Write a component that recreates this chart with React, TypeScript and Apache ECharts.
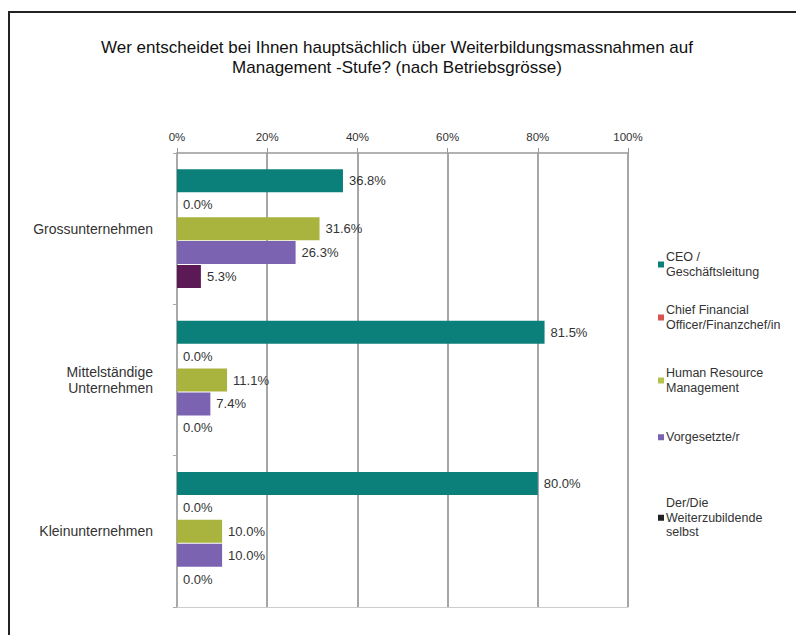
import React, { useEffect, useRef } from "react";
import * as echarts from "echarts";

const categories = ["Grossunternehmen", "Mittelständige\nUnternehmen", "Kleinunternehmen"];
const seriesNames = [
  "CEO /\nGeschäftsleitung",
  "Chief Financial\nOfficer/Finanzchef/in",
  "Human Resource\nManagement",
  "Vorgesetzte/r",
  "Der/Die\nWeiterzubildende\nselbst",
];
const ceoValues = [36.8, 81.5, 80.0];
const cfoValues = [0.0, 0.0, 0.0];
const hrValues = [31.6, 11.1, 10.0];
const vorgesetzteValues = [26.3, 7.4, 10.0];
const selbstValues = [5.3, 0.0, 0.0];

const colors = ["#0b7f79", "#c0504d", "#a8b43e", "#7b63b1", "#5b1a56"];
const legendIconColors = ["#0b7f79", "#d9534f", "#b5c24f", "#7b63b1", "#222222"];
const legendTops = [245, 298, 361, 425, 491];

export default function App() {
  const ref = useRef<HTMLDivElement>(null);
  useEffect(() => {
    if (!ref.current) return;
    const chart = echarts.init(ref.current, undefined, { renderer: "svg" });
    const values = [ceoValues, cfoValues, hrValues, vorgesetzteValues, selbstValues];
    const font = "'Liberation Sans', Arial, sans-serif";
    chart.setOption({
      animation: false,
      backgroundColor: "#ffffff",
      textStyle: { fontFamily: font },
      title: {
        text: "Wer entscheidet bei Ihnen hauptsächlich über Weiterbildungsmassnahmen auf\nManagement -Stufe? (nach Betriebsgrösse)",
        left: 392,
        top: 32,
        textAlign: "center",
        textStyle: { fontSize: 17, fontWeight: "normal", color: "#111", lineHeight: 20, fontFamily: font },
      },
      legend: seriesNames.map((n, i) => ({
        data: [{ name: n, itemStyle: { color: legendIconColors[i] } }],
        orient: "vertical",
        left: 653,
        top: legendTops[i],
        itemWidth: 6,
        itemHeight: 6,
        itemGap: 4,
        icon: "rect",
        selectedMode: false,
        textStyle: { fontSize: 12.5, color: "#333", lineHeight: 14.5, fontFamily: font, padding: [0, 0, 0, -3] },
      })),
      grid: { left: 177, right: 168, top: 153, bottom: 28, containLabel: false },
      xAxis: [
        {
          type: "value",
          position: "top",
          min: 0,
          max: 100,
          interval: 20,
          axisLabel: { formatter: "{value}%", fontSize: 11.5, color: "#333", margin: 10, fontFamily: font },
          axisLine: { show: true, lineStyle: { color: "#999", width: 1.5 } },
          axisTick: { show: true, length: 5, lineStyle: { color: "#999" } },
          splitLine: { show: true, lineStyle: { color: "#888", width: 1.5 } },
        },
        {
          type: "value",
          position: "bottom",
          min: 0,
          max: 100,
          interval: 20,
          axisLabel: { show: false },
          axisLine: { show: true, lineStyle: { color: "#ccc", width: 1 } },
          axisTick: { show: false },
          splitLine: { show: false },
        },
      ],
      yAxis: {
        type: "category",
        data: categories,
        inverse: true,
        axisLabel: { fontSize: 14, color: "#333", margin: 24, lineHeight: 16, fontFamily: font },
        axisLine: { show: true, lineStyle: { color: "#aaa", width: 1.5 } },
        axisTick: { show: true, length: 4, lineStyle: { color: "#aaa" } },
      },
      graphic: [
        { type: "line", shape: { x1: 8, y1: 12, x2: 796, y2: 12 }, style: { stroke: "#222", lineWidth: 2 } },
        { type: "line", shape: { x1: 9, y1: 12, x2: 9, y2: 635 }, style: { stroke: "#222", lineWidth: 2 } },
      ],
      series: seriesNames.map((n, i) => ({
        name: n,
        type: "bar",
        xAxisIndex: 0,
        data: values[i],
        barWidth: 23,
        barGap: "4%",
        itemStyle: { color: colors[i] },
        label: {
          show: true,
          position: "right",
          distance: 6,
          fontSize: 13,
          color: "#333",
          fontFamily: font,
          formatter: (p: any) => Number(p.value).toFixed(1) + "%",
        },
      })),
    });
    return () => chart.dispose();
  }, []);
  return <div ref={ref} style={{ position: "fixed", left: 0, top: 0, width: 796, height: 635 }} />;
}
